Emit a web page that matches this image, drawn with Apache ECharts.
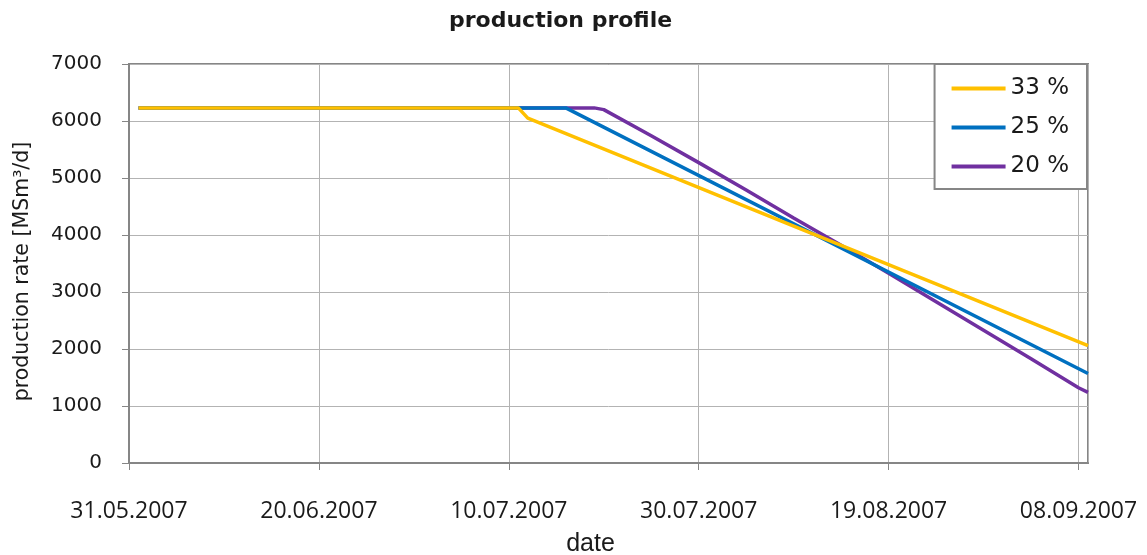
<!DOCTYPE html>
<html>
<head>
<meta charset="utf-8">
<script src="https://cdn.jsdelivr.net/npm/echarts@6/dist/echarts.min.js"></script>
<style>html,body{margin:0;padding:0;background:#fff}#c{width:1147px;height:555px}</style>
</head>
<body>
<div id="c"></div>
<script>
// ---- data ----
const baseDate = '2007-05-31';
const axisMaxDate = '2007-09-09';
const tickStepDays = 20;
const yTicks = [0, 1000, 2000, 3000, 4000, 5000, 6000, 7000];

const seriesNames = ['33 %', '25 %', '20 %'];

const dates33 = ['2007-06-01', '2007-07-11', '2007-07-12', '2007-09-09'];
const values33 = [6230, 6230, 6050, 2060];

const dates25 = ['2007-06-01', '2007-07-16', '2007-09-09'];
const values25 = [6230, 6230, 1570];

const dates20 = ['2007-06-01', '2007-07-19', '2007-07-20', '2007-07-25', '2007-07-30', '2007-08-04',
                 '2007-08-09', '2007-08-14', '2007-08-19', '2007-08-24', '2007-08-29', '2007-09-03',
                 '2007-09-08', '2007-09-09'];
const values20 = [6230, 6230, 6200, 5740, 5270, 4790, 4300, 3820, 3330, 2830, 2330, 1830, 1320, 1240];

// ---- helpers ----
const DAY = 86400000;
function toMs(s){ const p = s.split('-').map(Number); return Date.UTC(p[0], p[1]-1, p[2]); }
const base = toMs(baseDate);
function dayIdx(s){ return Math.round((toMs(s) - base) / DAY); }
function fmt(d){
  const t = new Date(base + d * DAY);
  const dd = String(t.getUTCDate()).padStart(2,'0');
  const mm = String(t.getUTCMonth()+1).padStart(2,'0');
  return dd + '.' + mm + '.' + t.getUTCFullYear();
}
function pts(ds, vs){ return ds.map((d,i)=>[dayIdx(d), vs[i]]); }

const colors = ['#FFC000', '#0070C0', '#7030A0'];
const allData = [pts(dates33, values33), pts(dates25, values25), pts(dates20, values20)];

const chart = echarts.init(document.getElementById('c'), null, {renderer:'canvas'});
chart.setOption({
  animation: false,
  backgroundColor: '#fff',
  title: {
    text: 'production profile',
    left: 449, top: 10, padding: 0,
    textStyle: { fontFamily: 'DejaVu Sans', fontWeight: 'bold', fontSize: 22, color: '#1a1a1a' }
  },
  legend: {
    orient: 'vertical',
    right: 1147 - 1087, top: 64,
    backgroundColor: '#fff',
    borderColor: '#868686', borderWidth: 2,
    padding: [13, 18, 11, 17],
    itemGap: 16,
    itemWidth: 54, itemHeight: 4,
    icon: 'rect',
    textStyle: { fontFamily: 'DejaVu Sans', fontSize: 23, color: '#1a1a1a' },
    data: seriesNames
  },
  grid: {
    left: 129, right: 59, top: 64, bottom: 92,
    outerBoundsMode: 'none',
    show: true, borderColor: '#868686', borderWidth: 2, containLabel: false
  },
  xAxis: {
    type: 'value',
    min: 0, max: dayIdx(axisMaxDate), interval: tickStepDays,
    name: 'date', nameLocation: 'middle', nameGap: 69,
    nameTextStyle: { fontFamily: 'Liberation Sans', fontSize: 25, color: '#1a1a1a', padding: [0, 36, 0, 0] },
    axisLine: { show: true, lineStyle: { color: '#868686', width: 2 } },
    axisTick: { show: true, length: 7, lineStyle: { color: '#868686' } },
    axisLabel: {
      margin: 37, formatter: v => fmt(v), showMaxLabel: false,
      fontFamily: 'Open Sans', fontSize: 23, color: '#1a1a1a'
    },
    splitLine: { show: true, lineStyle: { color: '#b3b3b3', width: 1 } }
  },
  yAxis: {
    type: 'value',
    min: yTicks[0], max: yTicks[yTicks.length-1], interval: yTicks[1]-yTicks[0],
    name: 'production rate [MSm³/d]', nameLocation: 'middle', nameGap: 96,
    nameTextStyle: { fontFamily: 'DejaVu Sans', fontSize: 20.5, color: '#1a1a1a', padding: [0, 16, 0, 0] },
    axisLine: { show: true, lineStyle: { color: '#868686', width: 2 } },
    axisTick: { show: true, length: 7, lineStyle: { color: '#868686' } },
    axisLabel: { margin: 27, formatter: v => String(v), fontFamily: 'DejaVu Sans', fontSize: 20, color: '#1a1a1a' },
    splitLine: { show: true, lineStyle: { color: '#b3b3b3', width: 1 } }
  },
  series: seriesNames.map((n,i)=>({
    name: n, type: 'line', data: allData[i],
    showSymbol: false, symbol: 'none',
    lineStyle: { color: colors[i], width: 3.5 },
    itemStyle: { color: colors[i] },
    z: 3 + (2 - i)
  }))
});
</script>
</body>
</html>
